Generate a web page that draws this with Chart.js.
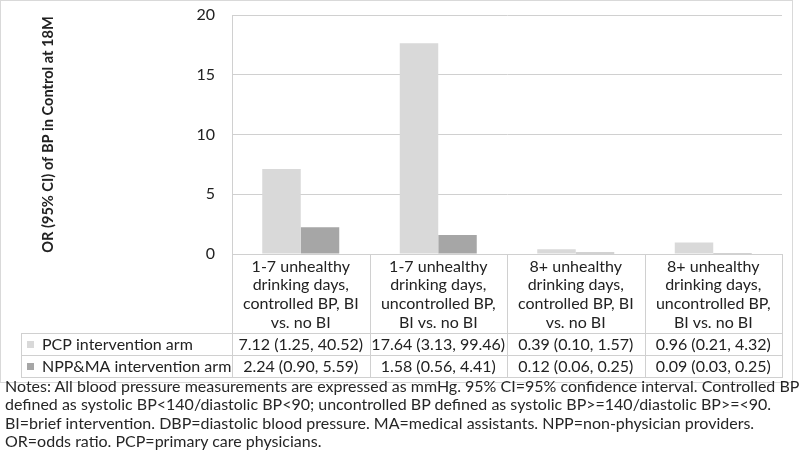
<!DOCTYPE html>
<html>
<head>
<meta charset="utf-8">
<script src="https://cdn.jsdelivr.net/npm/chart.js@4"></script>
<style>
  body { margin:0; background:#fff; width:800px; height:460px; overflow:hidden; font-family: Lato, "Liberation Sans", sans-serif; }
  #frame { position:absolute; left:0; top:0; width:791px; height:381px; border:1px solid #d9d9d9; }
  #wrap { position:absolute; left:0; top:0; width:800px; height:383px; }
  #notes { position:absolute; left:5px; top:377px; width:795px; font-size:16px; line-height:18.3px; color:#262626; white-space:nowrap; }
</style>
</head>
<body>
<div id="frame"></div>
<div id="wrap"><canvas id="chart" width="800" height="383"></canvas></div>
<div id="notes">Notes: All blood pressure measurements are expressed as mmHg. 95% CI=95% confidence interval. Controlled BP<br>defined as systolic BP&lt;140/diastolic BP&lt;90; uncontrolled BP defined as systolic BP&gt;=140/diastolic BP&gt;=&lt;90.<br>BI=brief intervention. DBP=diastolic blood pressure. MA=medical assistants. NPP=non-physician providers.<br>OR=odds ratio. PCP=primary care physicians.</div>
<script>
const categories = [
  ['1-7 unhealthy', 'drinking days,', 'controlled BP, BI', 'vs. no BI'],
  ['1-7 unhealthy', 'drinking days,', 'uncontrolled BP,', 'BI vs. no BI'],
  ['8+ unhealthy', 'drinking days,', 'controlled BP, BI', 'vs. no BI'],
  ['8+ unhealthy', 'drinking days,', 'uncontrolled BP,', 'BI vs. no BI']
];
const seriesNames = ['PCP intervention arm', 'NPP&MA intervention arm'];
const pcpOR   = [7.12, 17.64, 0.39, 0.96];
const pcpLow  = [1.25, 3.13, 0.10, 0.21];
const pcpHigh = [40.52, 99.46, 1.57, 4.32];
const nppOR   = [2.24, 1.58, 0.12, 0.09];
const nppLow  = [0.90, 0.56, 0.06, 0.03];
const nppHigh = [5.59, 4.41, 0.25, 0.25];
const yTicks  = [0, 5, 10, 15, 20];

const colors = ['#d9d9d9', '#a6a6a6'];
const lineCol = '#d0d0d0';
const textCol = '#222222';
const FONT = 'Lato, "Liberation Sans", sans-serif';

const fmt2 = v => v.toFixed(2);
const ciText = (or, lo, hi) => or.map((v, i) => `${fmt2(v)} (${fmt2(lo[i])}, ${fmt2(hi[i])})`);
const rows = [ciText(pcpOR, pcpLow, pcpHigh), ciText(nppOR, nppLow, nppHigh)];

const TABLE_BOTTOM = 377;
const ROW_H = 22;
const LEGEND_LEFT = 21;

// data table under the x axis
const dataTable = {
  id: 'dataTable',
  afterDraw(chart) {
    const ctx = chart.ctx;
    const x = chart.scales.x;
    const area = chart.chartArea;
    const n = categories.length;
    const bounds = [area.left];
    for (let i = 0; i < n - 1; i++) bounds.push((x.getPixelForTick(i) + x.getPixelForTick(i + 1)) / 2);
    bounds.push(area.right);
    const r1 = TABLE_BOTTOM - 2 * ROW_H, r2 = TABLE_BOTTOM - ROW_H;

    ctx.save();
    ctx.strokeStyle = lineCol;
    ctx.lineWidth = 1;
    ctx.beginPath();
    bounds.forEach(b => { const px = Math.round(b) + 0.5; ctx.moveTo(px, area.bottom); ctx.lineTo(px, TABLE_BOTTOM); });
    [r1, r2, TABLE_BOTTOM].forEach(y => { ctx.moveTo(LEGEND_LEFT, y + 0.5); ctx.lineTo(area.right + 1, y + 0.5); });
    ctx.moveTo(LEGEND_LEFT + 0.5, r1); ctx.lineTo(LEGEND_LEFT + 0.5, TABLE_BOTTOM);
    ctx.stroke();

    ctx.font = '16px ' + FONT;
    ctx.textBaseline = 'middle';
    rows.forEach((row, ri) => {
      const cy = r1 + ri * ROW_H + ROW_H / 2 + 1;
      ctx.fillStyle = colors[ri];
      ctx.fillRect(LEGEND_LEFT + 6, cy - 4, 7, 7);
      ctx.fillStyle = textCol;
      ctx.textAlign = 'left';
      ctx.fillText(seriesNames[ri], LEGEND_LEFT + 21, cy);
      ctx.textAlign = 'center';
      row.forEach((t, i) => ctx.fillText(t, x.getPixelForTick(i), cy));
    });
    ctx.restore();
  }
};

new Chart(document.getElementById('chart'), {
  type: 'bar',
  data: {
    labels: categories,
    datasets: [
      { label: seriesNames[0], data: pcpOR, backgroundColor: colors[0] },
      { label: seriesNames[1], data: nppOR, backgroundColor: colors[1] }
    ]
  },
  options: {
    responsive: false,
    animation: false,
    layout: { padding: { top: 15, right: 18, bottom: 6, left: 0 } },
    plugins: { legend: { display: false }, tooltip: { enabled: false } },
    datasets: { bar: { barPercentage: 1, categoryPercentage: 0.56 } },
    scales: {
      x: {
        grid: { display: false, drawTicks: false },
        border: { display: false },
        ticks: { color: textCol, font: { family: FONT, size: 16, lineHeight: 1.17 }, padding: 3, maxRotation: 0, autoSkip: false },
        afterFit(s) { s.height = 123; s.paddingLeft = 0; s.paddingRight = 0; }
      },
      y: {
        min: 0, max: 20,
        afterBuildTicks(s) { s.ticks = yTicks.map(v => ({ value: v })); },
        grid: { color: lineCol, drawTicks: false },
        border: { display: true, color: lineCol },
        ticks: { color: textCol, font: { family: FONT, size: 16 }, padding: 17 },
        title: { display: true, text: 'OR (95% CI) of BP in Control at 18M', color: textCol, font: { family: FONT, size: 14.6, weight: 'bold' }, padding: { top: 40 } },
        afterFit(s) { s.width = 232; s.paddingTop = 0; s.paddingBottom = 0; }
      }
    }
  },
  plugins: [dataTable]
});
</script>
</body>
</html>
